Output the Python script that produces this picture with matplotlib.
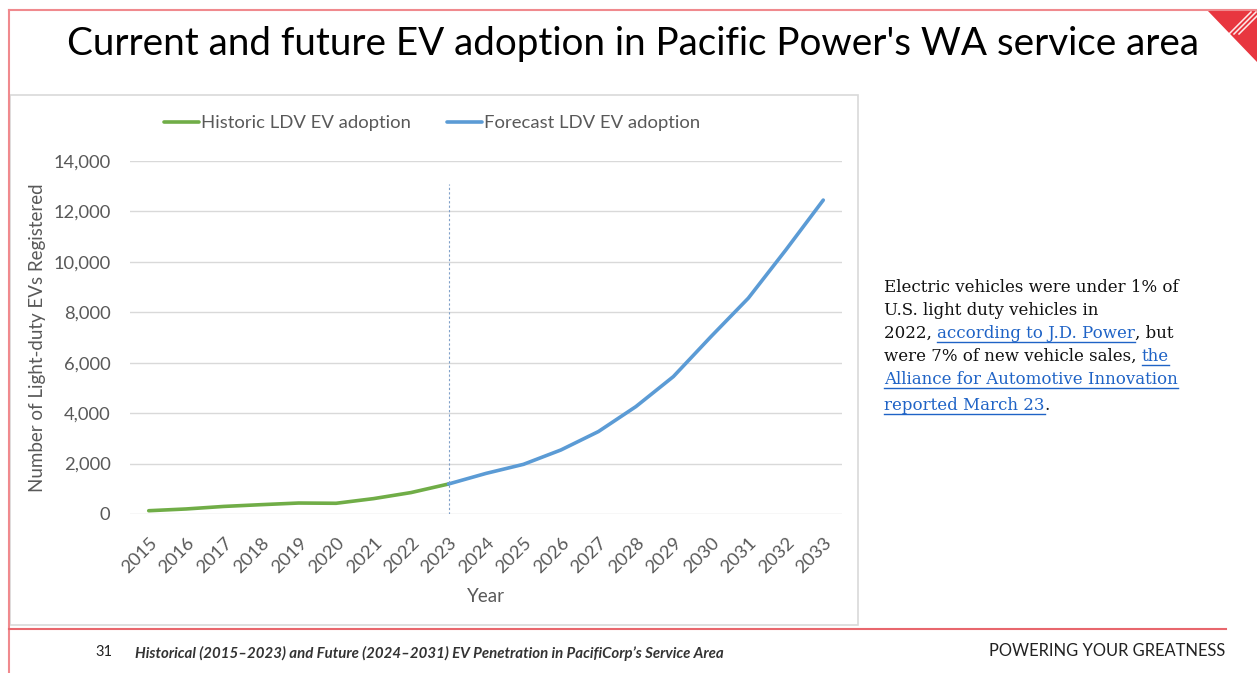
import matplotlib.pyplot as plt
from matplotlib.patches import Polygon, Rectangle
from matplotlib.ticker import FuncFormatter

years = [str(y) for y in range(2015, 2034)]
historic = [130, 200, 300, 370, 435, 425, 610, 850, 1190]
forecast = [1190, 1610, 1970, 2540, 3270, 4260, 5450, 7030, 8560, 10470, 12450]

GREEN = '#70AD47'
BLUE = '#5B9BD5'
GRAY = '#595959'
RED = '#E8363F'
LINK = '#1F63C6'

W, H = 1257, 673
fig = plt.figure(figsize=(W / 100, H / 100), dpi=100)

# page overlay in pixel coordinates
bg = fig.add_axes([0, 0, 1, 1], zorder=0)
bg.set_xlim(0, W)
bg.set_ylim(H, 0)
bg.axis('off')
bg.add_patch(Rectangle((10, 95), 848, 530, fill=False, ec='#D9D9D9', lw=1.2))
bg.plot([9, W], [10, 10], color='#F08A8E', lw=1.5)
bg.plot([9, 9], [10, H], color='#F08A8E', lw=1.5)
bg.plot([9, 1226], [629, 629], color='#E8676D', lw=1.5)
bg.add_patch(Polygon([(1207, 10), (W, 10), (W, 62)], closed=True, fc=RED, ec='none'))
for k in range(3):
    bg.plot([1229 + 5 * k, 1251 + 5 * k], [34, 12], color='white', lw=1.1, alpha=0.9)

bg.text(633, 44, "Current and future EV adoption in Pacific Power's WA service area",
        ha='center', va='center', fontsize=27.8, family='Lato', color='black')

bg.text(104, 652, '31', ha='center', va='center', fontsize=10.5, family='Lato', color='#222222')
bg.text(135, 653, "Historical (2015\u20132023) and Future (2024\u20132031) EV Penetration in PacifiCorp\u2019s Service Area",
        ha='left', va='center', fontsize=10.8, family='Lato', style='italic', weight='bold', color='#333333')
bg.text(1225, 651, 'POWERING YOUR GREATNESS', ha='right', va='center', fontsize=11.9,
        family='Lato', color='#222222')

# chart
ax = fig.add_axes([130 / W, 1 - 514 / H, 712 / W, 353 / H], zorder=1)
ax.patch.set_alpha(0)
x_hist = list(range(len(historic)))
x_fore = list(range(len(historic) - 1, len(historic) - 1 + len(forecast)))
ax.plot(x_hist, historic, color=GREEN, lw=2.6, solid_capstyle='round', label='Historic LDV EV adoption')
ax.plot(x_fore, forecast, color=BLUE, lw=2.6, solid_capstyle='round', label='Forecast LDV EV adoption')
ax.vlines(len(historic) - 1, 0, 13100, color='#7F9FC8', lw=0.8, linestyles=(0, (2, 2)))

ax.set_xlim(-0.5, len(years) - 0.5)
ax.set_ylim(0, 14000)
ax.set_yticks(range(0, 14001, 2000))
ax.yaxis.set_major_formatter(FuncFormatter(lambda v, p: f'{int(v):,}'))
ax.set_xticks(range(len(years)))
ax.set_xticklabels(years, rotation=45, ha='right', rotation_mode='anchor')
ax.grid(axis='y', color='#D9D9D9', lw=1)
ax.set_axisbelow(True)
for s in ax.spines.values():
    s.set_visible(False)
ax.tick_params(length=0, labelsize=13.2, labelcolor=GRAY)
ax.tick_params(axis='y', pad=14)
ax.tick_params(axis='x', pad=15)
for t in ax.get_xticklabels() + ax.get_yticklabels():
    t.set_family('Lato')
ax.set_xlabel('Year', fontsize=13.5, color=GRAY, family='Lato')
ax.set_ylabel('Number of Light-duty EVs Registered', fontsize=13.5, color=GRAY, family='Lato')
ax.xaxis.set_label_coords(0.5, -0.21)
ax.yaxis.set_label_coords(-0.118, 0.5)

leg = fig.legend(loc='center', bbox_to_anchor=(432 / W, 1 - 123 / H), ncol=2, frameon=False,
                 handlelength=1.9, handletextpad=0.1, columnspacing=2.0,
                 prop={'family': 'Lato', 'size': 13.3})
for t in leg.get_texts():
    t.set_color(GRAY)

# side note with underlined links
fig.canvas.draw()
rend = fig.canvas.get_renderer()
lines = [
    [('Electric vehicles were under 1% of', False)],
    [('U.S. light duty vehicles in', False)],
    [('2022, ', False), ('according to J.D. Power', True), (', but', False)],
    [('were 7% of new vehicle sales, ', False), ('the', True)],
    [('Alliance for Automotive Innovation', True)],
    [('reported March 23', True), ('.', False)],
]
ys = [292, 315, 338, 361, 384, 410]
inv = bg.transData.inverted()
for segs, y in zip(lines, ys):
    x = 884
    for txt, link in segs:
        t = bg.text(x, y, txt, ha='left', va='baseline', fontsize=12, family='DejaVu Serif',
                    color=LINK if link else '#111111')
        bb = t.get_window_extent(rend)
        (x0, _), (x1, _) = inv.transform([(bb.x0, bb.y0), (bb.x1, bb.y1)])
        if link:
            bg.plot([x0, x1], [y + 4, y + 4], color=LINK, lw=1)
        x = x1

fig.savefig('out.png', dpi=100)
